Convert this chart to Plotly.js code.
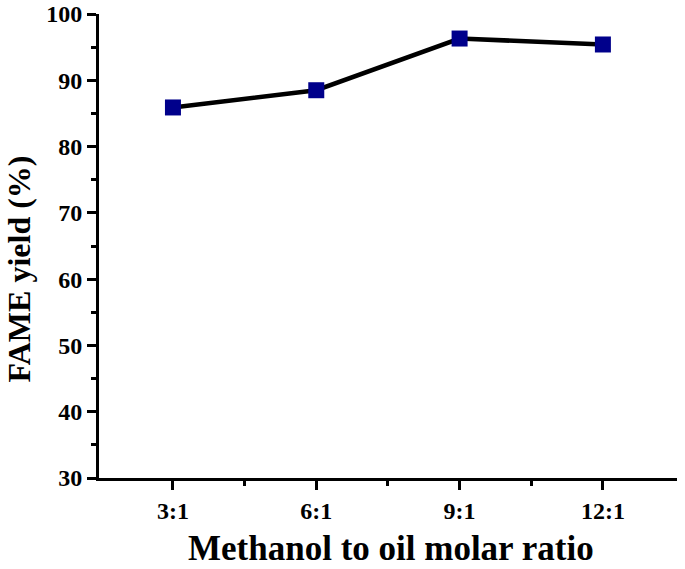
<!DOCTYPE html>
<html>
<head>
<meta charset="utf-8">
<script src="https://cdn.plot.ly/plotly-3.0.1.min.js"></script>
<style>body{margin:0;background:#fff}#chart{width:685px;height:569px}</style>
</head>
<body>
<div id="chart"></div>
<script>
const ratios = ["3:1", "6:1", "9:1", "12:1"];
const fameYield = [85.9, 88.5, 96.3, 95.4];
const yTicks = [30, 40, 50, 60, 70, 80, 90, 100];
const xTitle = "Methanol to oil molar ratio";
const yTitle = "FAME yield (%)";

const fam = "Liberation Serif, Times New Roman, serif";

const trace = {
  x: ratios.map((_, i) => i),
  y: fameYield,
  mode: "lines+markers",
  line: {color: "#000", width: 4.5},
  marker: {symbol: "square", size: 16, color: "#00008b", line: {width: 0}},
  showlegend: false
};

const layout = {
  width: 685, height: 569,
  margin: {l: 99, r: 8, t: 14, b: 91},
  paper_bgcolor: "#fff", plot_bgcolor: "#fff",
  font: {family: fam, color: "#000"},
  xaxis: {
    range: [-0.516, 3.517],
    tickvals: ratios.map((_, i) => i),
    ticktext: ratios,
    showgrid: false, zeroline: false,
    showline: true, linecolor: "#000", linewidth: 3,
    ticks: "outside", ticklen: 9, tickwidth: 3, tickcolor: "#000",
    minor: {tickvals: [0.5, 1.5, 2.5], ticks: "outside", ticklen: 5, tickwidth: 3, tickcolor: "#000"},
    tickfont: {family: fam, size: 24, color: "#000", weight: "bold"}
  },
  yaxis: {
    range: [30, 100],
    tickvals: yTicks,
    showgrid: false, zeroline: false,
    showline: true, linecolor: "#000", linewidth: 3,
    ticks: "outside", ticklen: 9, tickwidth: 3, tickcolor: "#000",
    minor: {dtick: 5, ticks: "outside", ticklen: 5, tickwidth: 3, tickcolor: "#000"},
    ticklabeloverflow: "allow",
    tickfont: {family: fam, size: 24, color: "#000", weight: "bold"}
  },
  annotations: [
    {text: "<b>" + xTitle + "</b>", xref: "paper", yref: "paper", x: 0.505, y: -0.152,
     xanchor: "center", yanchor: "middle", showarrow: false,
     font: {family: fam, size: 35, color: "#000"}},
    {text: "<b>" + yTitle + "</b>", xref: "paper", yref: "paper", x: -0.138, y: 0.45,
     xanchor: "center", yanchor: "middle", textangle: -90, showarrow: false,
     font: {family: fam, size: 32, color: "#000"}}
  ]
};

Plotly.newPlot("chart", [trace], layout, {displayModeBar: false});
</script>
</body>
</html>
